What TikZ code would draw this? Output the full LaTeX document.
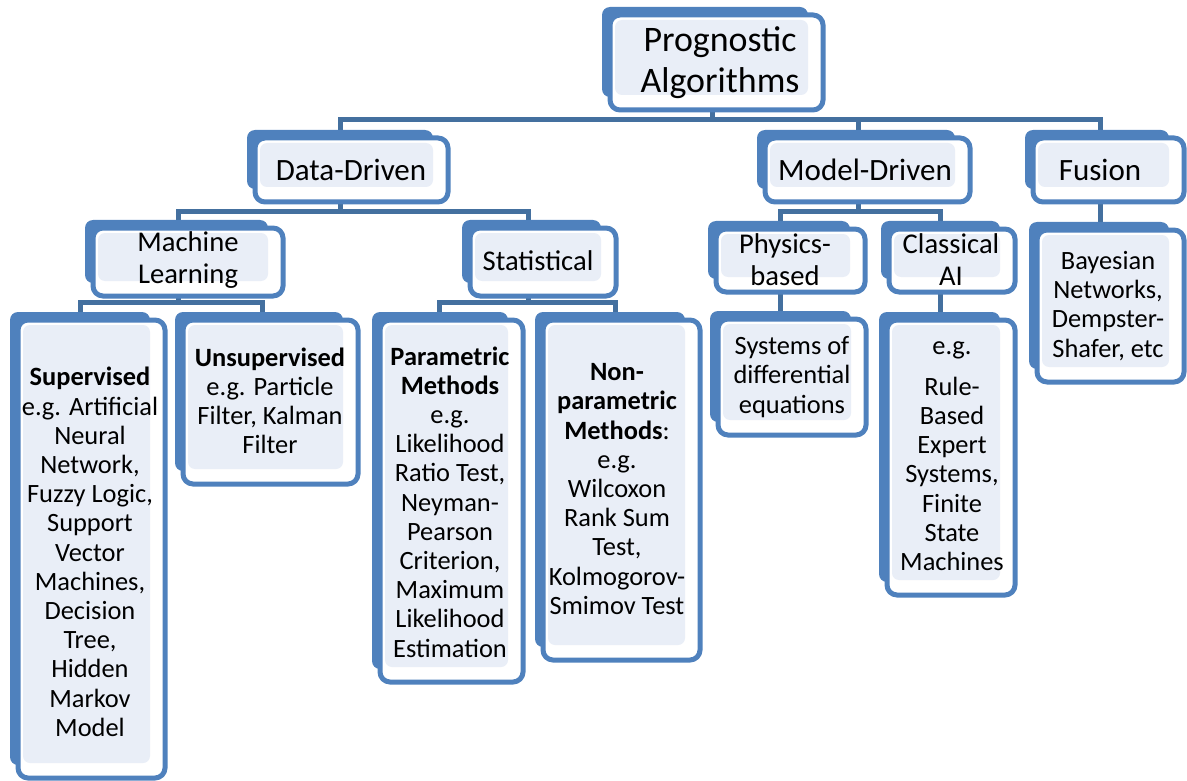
\documentclass[tikz,border=0pt]{standalone}
\usepackage{fontspec}
\setmainfont{Carlito}
\definecolor{backblue}{HTML}{4F81BD}
\definecolor{boxblue}{HTML}{4F81BD}
\definecolor{lightfill}{HTML}{E9EEF7}
\definecolor{connblue}{HTML}{44709F}
\newcommand\pbx[4]{%
  \fill[backblue, rounded corners=8pt] (#1-8,#2-8) rectangle (#3-15,#4-13);
  \draw[boxblue, line width=5pt, fill=white, rounded corners=10pt] (#1,#2) rectangle (#3,#4);
  \fill[lightfill, rounded corners=7pt] (#1+5,#2+5) rectangle (#3-15,#4-15);
}
\tikzset{
  conn/.style={connblue, line width=5pt},
  ttop/.style={font=\fontsize{35.9}{41}\selectfont, align=center, inner sep=0pt},
  tone/.style={font=\fontsize{31}{35}\selectfont, align=center, inner sep=0pt},
  ttwo/.style={font=\fontsize{28.6}{32}\selectfont, align=center, inner sep=0pt},
  tleaf/.style={font=\fontsize{26.4}{29.2}\selectfont, align=center, inner sep=0pt},
}
\begin{document}
\begin{tikzpicture}[x=1pt,y=-1pt]
\useasboundingbox (0,0) rectangle (1187,781);
% connector anchor coordinates
\coordinate (bar0) at (0,120);
\coordinate (bar1) at (0,212);
\coordinate (bar2) at (0,302);
\coordinate (prog-s) at (712,105);
\coordinate (dd-n) at (340,132);
\coordinate (dd-s) at (340,198);
\coordinate (md-n) at (858,132);
\coordinate (md-s) at (858,198);
\coordinate (fu-n) at (1100,132);
\coordinate (fu-s) at (1100,198);
\coordinate (ml-n) at (178,222);
\coordinate (ml-s) at (178,292);
\coordinate (st-n) at (528,222);
\coordinate (st-s) at (528,292);
\coordinate (ph-n) at (780,222);
\coordinate (ph-s) at (780,288);
\coordinate (ca-n) at (940,222);
\coordinate (ca-s) at (940,288);
\coordinate (sup-n) at (80,313);
\coordinate (uns-n) at (262,313);
\coordinate (par-n) at (439,313);
\coordinate (non-n) at (615,313);
\coordinate (sys-n) at (780,313);
\coordinate (cac-n) at (940,313);
\coordinate (fuc-n) at (1100,224);
% connectors
\draw[conn] (prog-s) -- (prog-s |- bar0);
\draw[conn] (dd-n) -- (dd-n |- bar0) -- (fu-n |- bar0) -- (fu-n);
\draw[conn] (md-n) -- (md-n |- bar0);
\draw[conn] (dd-s) -- (dd-s |- bar1);
\draw[conn] (ml-n) -- (ml-n |- bar1) -- (st-n |- bar1) -- (st-n);
\draw[conn] (md-s) -- (md-s |- bar1);
\draw[conn] (ph-n) -- (ph-n |- bar1) -- (ca-n |- bar1) -- (ca-n);
\draw[conn] (fu-s) -- (fuc-n);
\draw[conn] (ml-s) -- (ml-s |- bar2);
\draw[conn] (sup-n) -- (sup-n |- bar2) -- (uns-n |- bar2) -- (uns-n);
\draw[conn] (st-s) -- (st-s |- bar2);
\draw[conn] (par-n) -- (par-n |- bar2) -- (non-n |- bar2) -- (non-n);
\draw[conn] (ph-s) -- (sys-n);
\draw[conn] (ca-s) -- (cac-n);
% boxes
\pbx{610}{15}{823}{110}
\pbx{255}{138}{448}{202}
\pbx{765}{138}{970}{202}
\pbx{1033}{138}{1184}{202}
\pbx{93}{228}{283}{296}
\pbx{470}{228}{616}{296}
\pbx{716}{229}{865}{292}
\pbx{889}{229}{1015}{292}
\pbx{18}{320}{165}{778}
\pbx{183}{320}{358}{484}
\pbx{380}{320}{523}{682}
\pbx{543}{320}{700}{660}
\pbx{718}{319}{866}{435}
\pbx{887}{320}{1015}{595}
\pbx{1037}{230}{1184}{382}
% texts
\node[ttop] (prog) at (720,63) {Prognostic\\Algorithms};
\node[tone] (dd) at (351,170) {Data-Driven};
\node[tone] (md) at (865,170) {Model-Driven};
\node[tone] (fu) at (1100,170) {Fusion};
\node[ttwo] (ml) at (188,260) {Machine\\Learning};
\node[ttwo] (st) at (538,261) {Statistical};
\node[ttwo] (ph) at (785,260) {Physics-\\based};
\node[ttwo] (ca) at (951,260) {Classical\\AI};
\node[tleaf] (sup) at (90,552) {\textbf{Supervised}\\e.g. Artificial\\Neural\\Network,\\Fuzzy Logic,\\Support\\Vector\\Machines,\\Decision\\Tree,\\Hidden\\Markov\\Model};
\node[tleaf] (uns) at (270,401) {\textbf{Unsupervised}\\e.g. Particle\\Filter, Kalman\\Filter};
\node[tleaf] (par) at (450,502) {\textbf{Parametric}\\\textbf{Methods}\\e.g.\\Likelihood\\Ratio Test,\\Neyman-\\Pearson\\Criterion,\\Maximum\\Likelihood\\Estimation};
\node[tleaf] (non) at (617,489) {\textbf{Non-}\\\textbf{parametric}\\\textbf{Methods}:\\e.g.\\Wilcoxon\\Rank Sum\\Test,\\Kolmogorov-\\Smimov Test};
\node[tleaf] (sys) at (792,377) {Systems of\\differential\\equations};
\node[tleaf] (cac) at (952,456) {e.g.\\[12pt]Rule-\\Based\\Expert\\Systems,\\Finite\\State\\Machines};
\node[tleaf] (fuc) at (1108,306) {Bayesian\\Networks,\\Dempster-\\Shafer, etc};
\end{tikzpicture}
\end{document}
